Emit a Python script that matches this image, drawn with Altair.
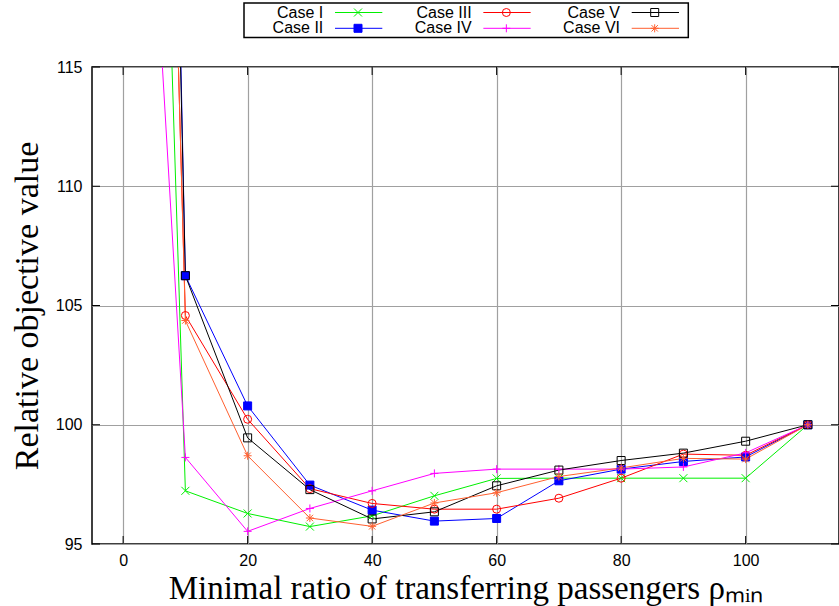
import altair as alt
import pandas as pd

# Minimal transfer ratio (percent) on the x axis
rho = [0, 10, 20, 30, 40, 50, 60, 70, 80, 90, 100, 110]

# Relative objective value of each case
case_i = [180.0, 97.23, 96.28, 95.73, 96.18, 97.02, 97.75, 97.76, 97.76, 97.76, 97.76, 100.0]
case_ii = [230.0, 106.25, 100.79, 97.47, 96.42, 95.96, 96.07, 97.65, 98.14, 98.46, 98.65, 100.0]
case_iii = [198.0, 104.58, 100.23, 97.32, 96.70, 96.46, 96.46, 96.92, 97.76, 98.77, 98.72, 100.0]
case_iv = [143.0, 98.63, 95.53, 96.49, 97.23, 97.96, 98.14, 98.14, 98.14, 98.23, 98.82, 100.0]
case_v = [220.0, 106.25, 99.45, 97.28, 96.05, 96.35, 97.44, 98.10, 98.50, 98.81, 99.31, 100.0]
case_vi = [200.0, 104.37, 98.70, 96.09, 95.74, 96.72, 97.15, 97.83, 98.19, 98.59, 98.56, 100.0]

cases = ["Case I", "Case II", "Case III", "Case IV", "Case V", "Case VI"]
series = [case_i, case_ii, case_iii, case_iv, case_v, case_vi]

colors = ["#00f000", "#0000ff", "#ff0000", "#ff00ff", "#000000", "#ff6030"]
fills = ["transparent", "#0000ff", "transparent", "transparent", "transparent", "transparent"]

X_PATH = "M-1,-1L1,1M-1,1L1,-1"
PLUS_PATH = "M-1,0L1,0M0,-1L0,1"
STAR_PATH = "M-1,0L1,0M0,-1L0,1M-0.8,-0.8L0.8,0.8M-0.8,0.8L0.8,-0.8"
shapes = [X_PATH, "square", "circle", PLUS_PATH, "square", STAR_PATH]

# legend grid: three columns, two rows
legend_col = [0, 0, 1, 1, 2, 2]
legend_row = [0, 1, 0, 1, 0, 1]

x_ticks = [0, 20, 40, 60, 80, 100]
y_ticks = [95, 100, 105, 110, 115]

W, H = 747, 477
TICK = 8

rows = []
for name, vals in zip(cases, series):
    for r, v in zip(rho, vals):
        rows.append({"case": name, "rho": r, "value": v})
df = pd.DataFrame(rows)

legend_df = pd.DataFrame({"case": cases, "col": legend_col, "row": legend_row})
box_df = pd.DataFrame({"c0": [min(legend_col)], "c1": [max(legend_col)],
                       "r0": [min(legend_row)], "r1": [max(legend_row)]})
xt_df = pd.DataFrame({"rho": x_ticks})
yt_df = pd.DataFrame({"value": y_ticks})

stroke_scale = alt.Scale(domain=cases, range=colors)
fill_scale = alt.Scale(domain=cases, range=fills)
shape_scale = alt.Scale(domain=cases, range=shapes)

x_scale = alt.Scale(domain=[-5, 115], nice=False, zero=False)
y_scale = alt.Scale(domain=[95, 115], nice=False, zero=False)

x_axis = alt.Axis(values=x_ticks, title="Minimal ratio of transferring passengers ρₘᵢₙ",
                  labelPadding=8, titleBaseline="alphabetic", titleY=54.5,
                  titleFontSize=33)
y_axis = alt.Axis(values=y_ticks, title="Relative objective value",
                  labelPadding=10, titlePadding=11, titleFontSize=34)

x_enc = alt.X("rho:Q", scale=x_scale, axis=x_axis)
y_enc = alt.Y("value:Q", scale=y_scale, axis=y_axis)

base = alt.Chart(df)

lines = base.mark_line(strokeWidth=1, clip=True).encode(
    x=x_enc, y=y_enc,
    stroke=alt.Stroke("case:N", scale=stroke_scale, legend=None),
)

points = base.mark_point(filled=False, size=64, strokeWidth=1, opacity=1, clip=True).encode(
    x=x_enc, y=y_enc,
    stroke=alt.Stroke("case:N", scale=stroke_scale, legend=None),
    fill=alt.Fill("case:N", scale=fill_scale, legend=None),
    shape=alt.Shape("case:N", scale=shape_scale, legend=None),
)

# inward tick marks on all four sides of the frame
xt = alt.Chart(xt_df)
ticks_bottom = xt.mark_rule(color="black", strokeWidth=1).encode(
    x=x_enc, y=alt.value(H), y2=alt.value(H - TICK))
ticks_top = xt.mark_rule(color="black", strokeWidth=1).encode(
    x=x_enc, y=alt.value(0), y2=alt.value(TICK))
yt = alt.Chart(yt_df)
ticks_left = yt.mark_rule(color="black", strokeWidth=1).encode(
    y=y_enc, x=alt.value(0), x2=alt.value(TICK))
ticks_right = yt.mark_rule(color="black", strokeWidth=1).encode(
    y=y_enc, x=alt.value(W), x2=alt.value(W - TICK))

plot = alt.layer(lines, points, ticks_bottom, ticks_top, ticks_left, ticks_right)

# legend block above the plot
lx = alt.Scale(domain=[0, 2], range=[231.3, 528])
ly = alt.Scale(domain=[0, 1], range=[-54.5, -38.7])

leg = alt.Chart(legend_df)
leg_text = leg.mark_text(align="right", baseline="middle", font="Liberation Sans",
                         fontSize=16, color="black").encode(
    x=alt.X("col:Q", scale=lx, axis=None),
    y=alt.Y("row:Q", scale=ly, axis=None),
    text="case:N",
)
leg_line = leg.mark_rule(strokeWidth=1, xOffset=11.7, x2Offset=59).encode(
    x=alt.X("col:Q", scale=lx, axis=None),
    x2="col:Q",
    y=alt.Y("row:Q", scale=ly, axis=None),
    stroke=alt.Stroke("case:N", scale=stroke_scale, legend=None),
)
leg_pt = leg.mark_point(filled=False, size=64, strokeWidth=1, opacity=1, xOffset=34.7).encode(
    x=alt.X("col:Q", scale=lx, axis=None),
    y=alt.Y("row:Q", scale=ly, axis=None),
    stroke=alt.Stroke("case:N", scale=stroke_scale, legend=None),
    fill=alt.Fill("case:N", scale=fill_scale, legend=None),
    shape=alt.Shape("case:N", scale=shape_scale, legend=None),
)
leg_box = alt.Chart(box_df).mark_rect(
    fill="white", stroke="black", strokeWidth=1.5,
    xOffset=-79.3, x2Offset=68.3, yOffset=-9.5, y2Offset=9.2,
).encode(
    x=alt.X("c0:Q", scale=lx, axis=None), x2="c1:Q",
    y=alt.Y("r0:Q", scale=ly, axis=None), y2="r1:Q",
)

legend_block = alt.layer(leg_box, leg_line, leg_pt, leg_text)

chart = (
    alt.layer(plot, legend_block)
    .resolve_scale(x="independent", y="independent")
    .properties(
        width=W, height=H,
        autosize=alt.AutoSizeParams(type="none"),
        padding={"left": 92, "top": 67, "right": 0, "bottom": 62},
        background="white",
    )
    .configure_view(stroke="black", strokeWidth=1.5)
    .configure_axis(
        grid=True, gridColor="#a0a0a0", gridWidth=1.2,
        domain=False, ticks=False,
        labelFont="Liberation Sans", labelFontSize=16, labelColor="black",
        titleFont="Liberation Serif", titleFontWeight="normal",
        titleColor="black",
    )
)

chart.save("out.html", embed_options={"renderer": "svg", "actions": False})
